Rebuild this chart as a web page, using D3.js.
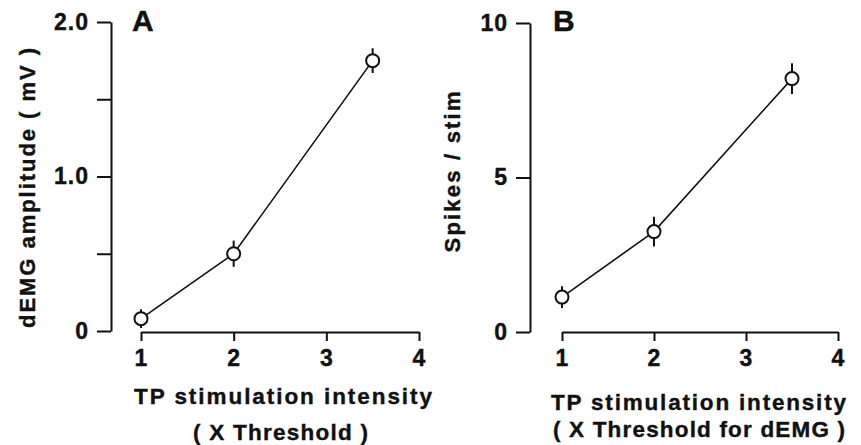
<!DOCTYPE html>
<html>
<head>
<meta charset="utf-8">
<script src="https://cdn.jsdelivr.net/npm/d3@7"></script>
<style>
  body { margin: 0; background: #fff; }
  svg { display: block; }
  text { font-family: "Liberation Sans", Arial, sans-serif; font-weight: bold; fill: #111; stroke: #111; stroke-width: 0.4px; }
</style>
</head>
<body>
<div id="chart"></div>
<script>
// Stimulation intensity (x threshold)
const intensity = [1, 2, 3.5];

// Panel A: dEMG amplitude (mV), mean and error
const ampMean = [0.08, 0.5, 1.75];
const ampErr = [0.06, 0.085, 0.08];

// Panel B: spikes per stimulus
const spikesMean = [1.13, 3.25, 8.2];
const spikesErr = [0.35, 0.48, 0.5];

const xTicks = [1, 2, 3, 4];
const ampTicks = [0, 0.5, 1, 1.5, 2];
const ampTickLabels = { 0: '0', 1: '1.0', 2: '2.0' };
const spikeTicks = [0, 5, 10];

const width = 861;
const height = 445;
const ink = '#111';

const svg = d3.select('#chart')
    .append('svg')
    .attr('width', width)
    .attr('height', height);

function drawPanel(opts) {
    const g = svg.append('g');
    const x = d3.scaleLinear().domain([1, 4]).range(opts.xRange);
    const y = d3.scaleLinear().domain(opts.yDomain).range(opts.yRange);

    // y axis, detached from the x axis
    const yAxis = d3.axisLeft(y)
        .tickValues(opts.yTicks)
        .tickSizeInner(14)
        .tickSizeOuter(0)
        .tickPadding(8)
        .tickFormat(opts.yFormat);
    const yg = g.append('g')
        .attr('transform', `translate(${opts.yAxisX},0)`)
        .call(yAxis);

    const xAxis = d3.axisBottom(x)
        .tickValues(xTicks)
        .tickSizeInner(9)
        .tickSizeOuter(0)
        .tickPadding(9)
        .tickFormat(d3.format('d'));
    const xg = g.append('g')
        .attr('transform', `translate(0,${opts.xAxisY})`)
        .call(xAxis);

    [yg, xg].forEach(a => {
        a.attr('font-family', null).attr('font-size', null);
        a.select('.domain').attr('stroke', ink).attr('stroke-width', 2);
        a.selectAll('.tick line').attr('stroke', ink).attr('stroke-width', 2);
        a.selectAll('.tick text')
            .style('font-size', '23px')
            .attr('fill', ink)
            .attr('letter-spacing', '1px');
    });

    // connecting line
    const line = d3.line()
        .x((d, i) => x(intensity[i]))
        .y(d => y(d));
    g.append('path')
        .datum(opts.mean)
        .attr('d', line)
        .attr('fill', 'none')
        .attr('stroke', ink)
        .attr('stroke-width', 1.6);

    // error bars
    g.selectAll('.err')
        .data(opts.mean)
        .enter()
        .append('line')
        .attr('class', 'err')
        .attr('x1', (d, i) => x(intensity[i]))
        .attr('x2', (d, i) => x(intensity[i]))
        .attr('y1', (d, i) => y(d - opts.err[i]))
        .attr('y2', (d, i) => y(d + opts.err[i]))
        .attr('stroke', ink)
        .attr('stroke-width', 2);

    // open circles
    g.selectAll('.pt')
        .data(opts.mean)
        .enter()
        .append('circle')
        .attr('class', 'pt')
        .attr('cx', (d, i) => x(intensity[i]))
        .attr('cy', d => y(d))
        .attr('r', 6.5)
        .attr('fill', '#fff')
        .attr('stroke', ink)
        .attr('stroke-width', 2);

    // panel letter
    g.append('text')
        .attr('x', opts.letterX)
        .attr('y', 31)
        .style('font-size', '30px')
        .text(opts.letter);

    // y title, stretched to the length in the figure
    g.append('text')
        .attr('transform', `translate(${opts.yTitleX},${opts.yTitleY}) rotate(-90)`)
        .attr('x', -opts.yTitleLen / 2)
        .attr('textLength', opts.yTitleLen)
        .attr('lengthAdjust', 'spacing')
        .style('font-size', '22px')
        .text(opts.yTitle);

    // x title lines, stretched to the widths in the figure
    opts.xTitle.forEach(t => {
        g.append('text')
            .attr('x', t.x)
            .attr('y', t.y)
            .attr('textLength', t.w)
            .attr('lengthAdjust', 'spacing')
            .style('font-size', '22.5px')
            .text(t.text);
    });
}

drawPanel({
    letter: 'A',
    letterX: 132,
    xRange: [141, 419],
    yDomain: [0, 2],
    yRange: [331, 22],
    yTicks: ampTicks,
    yFormat: d => ampTickLabels[d] || '',
    yAxisX: 111,
    xAxisY: 332,
    mean: ampMean,
    err: ampErr,
    yTitle: 'dEMG  amplitude  ( mV )',
    yTitleX: 35,
    yTitleY: 188,
    yTitleLen: 280,
    xTitle: [
        { text: 'TP  stimulation  intensity', x: 134, y: 404, w: 298 },
        { text: '( X  Threshold )', x: 193, y: 440, w: 175 }
    ]
});

drawPanel({
    letter: 'B',
    letterX: 553,
    xRange: [562, 838],
    yDomain: [0, 10],
    yRange: [332, 23],
    yTicks: spikeTicks,
    yFormat: d3.format('d'),
    yAxisX: 530,
    xAxisY: 332,
    mean: spikesMean,
    err: spikesErr,
    yTitle: 'Spikes  /  stim',
    yTitleX: 460,
    yTitleY: 172,
    yTitleLen: 161,
    xTitle: [
        { text: 'TP  stimulation  intensity', x: 551, y: 410, w: 295 },
        { text: '( X  Threshold  for  dEMG )', x: 553, y: 437, w: 292 }
    ]
});
</script>
</body>
</html>
